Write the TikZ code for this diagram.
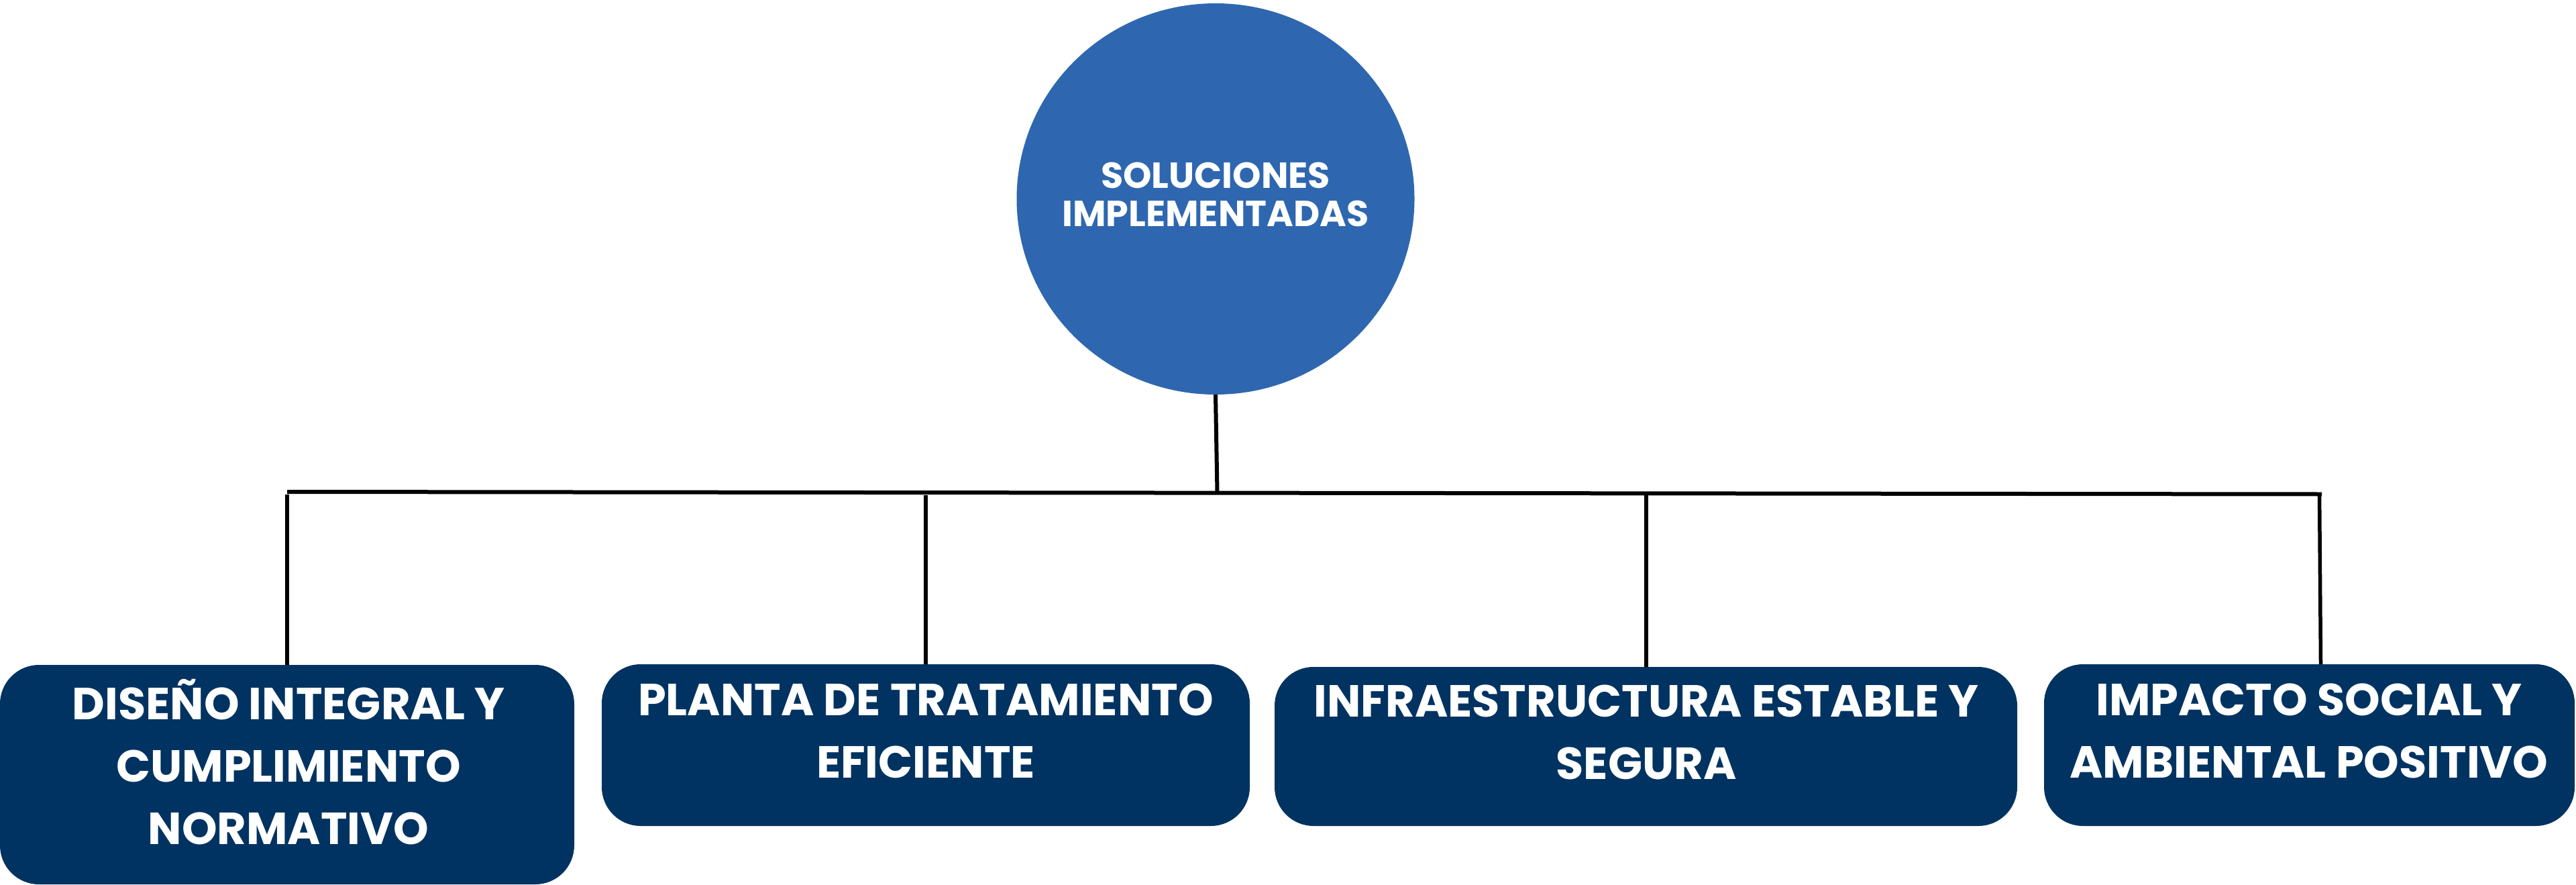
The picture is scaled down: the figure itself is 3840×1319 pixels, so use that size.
\documentclass[tikz,border=0pt]{standalone}
\usepackage{fontspec}
\usetikzlibrary{shapes.geometric}
\newfontfamily\popfont{Poppins}
\definecolor{rootblue}{HTML}{2E67AF}
\definecolor{boxnavy}{HTML}{003361}
\begin{document}
\begin{tikzpicture}[x=1pt,y=-1pt,
  rootnode/.style={ellipse, fill=rootblue, inner sep=0pt},
  boxnode/.style={rectangle, rounded corners=58pt, fill=boxnavy, inner sep=0pt},
  boxlabel/.style={text=white, align=center, inner sep=0pt,
    font=\popfont\bfseries\fontsize{67}{93}\selectfont},
  rootlabel/.style={text=white, align=center, inner sep=0pt,
    font=\popfont\bfseries\fontsize{54}{57}\selectfont},
  link/.style={draw=black, line width=5.5pt},
  barline/.style={draw=black, line width=6pt}]
\useasboundingbox (0,0) rectangle (3840,1319);

% root
\node[rootnode, minimum width=593pt, minimum height=583pt] (root) at (1812,296.5) {};
\node[rootlabel] (roott) at (1812,289.5) {SOLUCIONES\\IMPLEMENTADAS};

% boxes
\node[boxnode, minimum width=856pt, minimum height=327pt] (b1) at (428,1154.5) {};
\node[boxnode, minimum width=966pt, minimum height=241pt] (b2) at (1380,1110.5) {};
\node[boxnode, minimum width=1107pt, minimum height=237pt] (b3) at (2453.5,1112.5) {};
\node[boxnode, minimum width=791pt, minimum height=241pt] (b4) at (3442.5,1110.5) {};

\node[boxlabel] (b1t) at (430,1135.5) {DISEÑO INTEGRAL Y\\CUMPLIMIENTO\\NORMATIVO};
\node[boxlabel] (b2t) at (1380,1089.5) {PLANTA DE TRATAMIENTO\\EFICIENTE};
\node[boxlabel] (b3t) at (2454,1091.5) {INFRAESTRUCTURA ESTABLE Y\\SEGURA};
\node[boxlabel] (b4t) at (3442,1089.5) {IMPACTO SOCIAL Y\\AMBIENTAL POSITIVO};

% connectors
\coordinate (j) at (1814.5,734);
\coordinate (barL) at (428,733);
\coordinate (barR) at (3461,736.5);
\coordinate (d1) at (428,737);
\coordinate (d2) at (1380,738);
\coordinate (d3) at (2454,738);
\coordinate (d4) at (3457.5,734);

\draw[barline] (root.south) -- (j);
\draw[barline] (barL) -- (barR);
\draw[link] (d1) -- (d1 |- b1.north);
\draw[link] (d2) -- (d2 |- b2.north);
\draw[link] (d3) -- (d3 |- b3.north);
\draw[link] (d4) -- ([xshift=17pt]b4.north);
\end{tikzpicture}
\end{document}
